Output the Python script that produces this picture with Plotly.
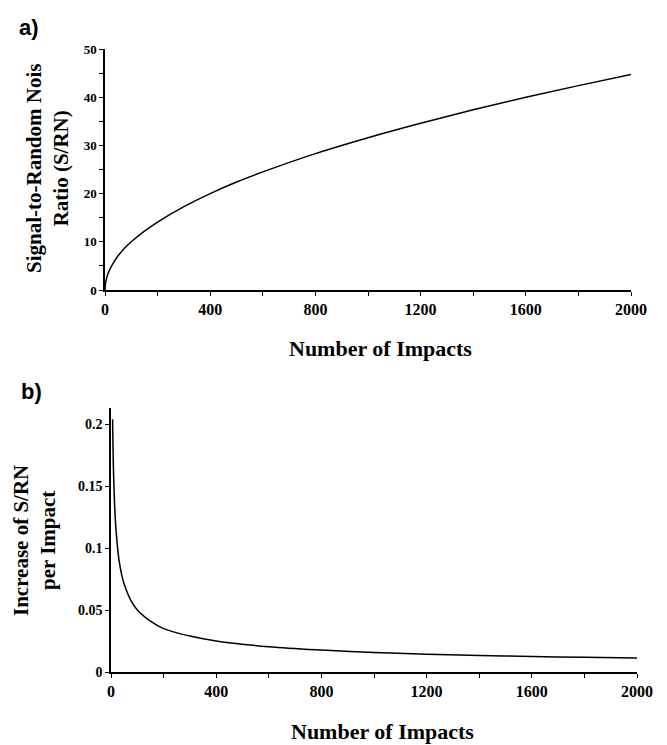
import plotly.graph_objects as go

# ---- data ----
impacts_a = [0, 2, 5, 10, 20, 35, 50, 75, 100, 150, 200, 300, 400, 500, 600,
             800, 1000, 1200, 1400, 1600, 1800, 2000]
snr_values = [0, 1.4, 2.2, 3.2, 4.5, 5.9, 7.1, 8.7, 10.0, 12.2, 14.1, 17.3, 20.0,
              22.4, 24.5, 28.3, 31.6, 34.6, 37.4, 40.0, 42.4, 44.7]

impacts_b = [6, 8, 10, 15, 20, 30, 40, 50, 75, 100, 150, 200, 300, 400, 600,
             800, 1000, 1200, 1400, 1600, 1800, 2000]
increase_values = [0.204, 0.177, 0.158, 0.129, 0.112, 0.091, 0.079, 0.071, 0.058,
                   0.050, 0.041, 0.035, 0.029, 0.025, 0.0204, 0.0177, 0.0158,
                   0.0144, 0.0134, 0.0125, 0.0118, 0.0112]

x_tick_vals = [0, 400, 800, 1200, 1600, 2000]
ya_tick_vals = [0, 10, 20, 30, 40, 50]
yb_tick_vals = [0, 0.05, 0.1, 0.15, 0.2]

W, H = 667, 745
def px(x):
    return x / W
def py(y):
    return 1 - y / H

SERIF = "Liberation Serif"
SANS = "Liberation Sans"

fig = go.Figure()
fig.add_trace(go.Scatter(x=impacts_a, y=snr_values, xaxis="x", yaxis="y", mode="lines",
                         line=dict(color="black", width=1.5, shape="spline"),
                         showlegend=False))
fig.add_trace(go.Scatter(x=impacts_b, y=increase_values, xaxis="x2", yaxis="y2", mode="lines",
                         line=dict(color="black", width=1.5, shape="spline"),
                         showlegend=False))

axis_common = dict(showline=True, linecolor="black", linewidth=1.5, showgrid=False,
                   zeroline=False, ticks="outside", ticklen=4, tickwidth=1.2,
                   tickcolor="black", mirror=False, automargin=False)

fig.update_layout(
    template="none",
    width=W, height=H,
    margin=dict(l=0, r=0, t=0, b=0, pad=0),
    paper_bgcolor="white", plot_bgcolor="white",
    xaxis=dict(domain=[px(105), px(631)], anchor="y", range=[0, 2000],
               tickvals=x_tick_vals,
               minor=dict(dtick=200, ticks="outside", ticklen=4, tickcolor="black", showgrid=False),
               tickfont=dict(family=SERIF, size=16, color="black", weight="bold"),
               **axis_common),
    yaxis=dict(domain=[py(290), py(49)], anchor="x", range=[0, 50],
               tickvals=ya_tick_vals,
               minor=dict(dtick=5, ticks="outside", ticklen=4, tickcolor="black", showgrid=False),
               tickfont=dict(family=SERIF, size=13, color="black", weight="bold"),
               **axis_common),
    xaxis2=dict(domain=[px(111), px(637)], anchor="y2", range=[0, 2000],
                tickvals=x_tick_vals,
                minor=dict(dtick=200, ticks="outside", ticklen=4, tickcolor="black", showgrid=False),
                tickfont=dict(family=SERIF, size=16, color="black", weight="bold"),
                **axis_common),
    yaxis2=dict(domain=[py(672), py(408)], anchor="x2", range=[0, 0.213],
                tickvals=yb_tick_vals, ticktext=["0", "0.05", "0.1", "0.15", "0.2"],
                tickfont=dict(family=SERIF, size=14, color="black", weight="bold"),
                **axis_common),
)

ann = []
ann.append(dict(text="a)", x=px(29), y=py(27), xref="paper", yref="paper",
                showarrow=False, xanchor="center", yanchor="middle",
                font=dict(family=SANS, size=22, color="black", weight="bold")))
ann.append(dict(text="b)", x=px(31), y=py(391), xref="paper", yref="paper",
                showarrow=False, xanchor="center", yanchor="middle",
                font=dict(family=SANS, size=22, color="black", weight="bold")))
ann.append(dict(text="Number of Impacts", x=px(380), y=py(348), xref="paper", yref="paper",
                showarrow=False, xanchor="center", yanchor="middle",
                font=dict(family=SERIF, size=22, color="black", weight="bold")))
ann.append(dict(text="Number of Impacts", x=px(382), y=py(731), xref="paper", yref="paper",
                showarrow=False, xanchor="center", yanchor="middle",
                font=dict(family=SERIF, size=22, color="black", weight="bold")))
ann.append(dict(text="Signal-to-Random Nois<br>Ratio (S/RN)", x=px(48), y=py(168),
                xref="paper", yref="paper", showarrow=False, textangle=-90,
                xanchor="center", yanchor="middle",
                font=dict(family=SERIF, size=21, color="black", weight="bold")))
ann.append(dict(text="Increase of S/RN<br>per Impact", x=px(34), y=py(541),
                xref="paper", yref="paper", showarrow=False, textangle=-90,
                xanchor="center", yanchor="middle",
                font=dict(family=SERIF, size=21, color="black", weight="bold")))
fig.update_layout(annotations=ann)

fig.write_html("out.html", config={"displayModeBar": False},
               post_script="document.body.style.margin='0';document.body.style.overflow='hidden';")
